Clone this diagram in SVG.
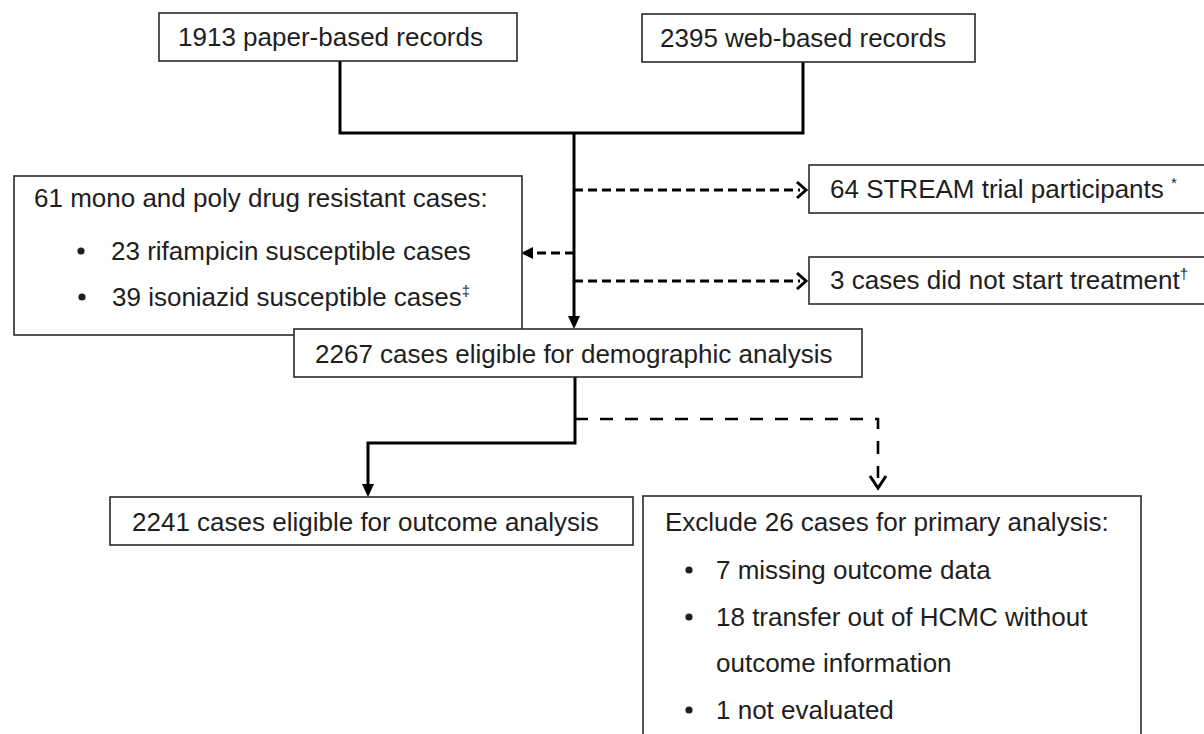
<svg xmlns="http://www.w3.org/2000/svg" width="1204" height="734" viewBox="0 0 1204 734">
<style>
  .box { fill: #fff; stroke: #2a2a2a; stroke-width: 1.6; }
  .t { font-family: "Liberation Sans", Arial, sans-serif; font-size: 26px; fill: #1e1e1e; }
  .sup { font-size: 15px; }
  .solid { fill: none; stroke: #000; stroke-width: 3; }
  .dash { fill: none; stroke: #000; stroke-width: 3; stroke-dasharray: 9 5; }
  .dash2 { fill: none; stroke: #000; stroke-width: 2.6; stroke-dasharray: 13 12; }
  .chev { fill: none; stroke: #000; stroke-width: 3; }
  .head { fill: #000; stroke: none; }
</style>
<rect width="1204" height="734" fill="#fff"/>

<g id="connectors">
  <path class="solid" d="M340,61 V133 H803 V62"/>
  <path class="solid" d="M574,133 V318"/>
  <polygon class="head" points="568,316 580,316 574,329"/>
  <path class="dash" d="M574,190 H800"/>
  <polyline class="chev" points="797,182 806,190 797,198"/>
  <path class="dash" d="M574,253 H532"/>
  <polygon class="head" points="533,247 533,259 521,253"/>
  <path class="dash" d="M574,281 H800"/>
  <polyline class="chev" points="797,273 806,281 797,289"/>
  <path class="solid" d="M575,377 V443 H368 V486"/>
  <polygon class="head" points="362,484 374,484 368,497"/>
  <path class="dash2" d="M575,419 H878 V478"/>
  <polyline class="chev" points="870,476 878,488 886,476"/>
</g>

<g id="paper">
  <rect class="box" x="159" y="13" width="358" height="48"/>
  <text class="t" x="178" y="46">1913 paper-based records</text>
</g>
<g id="web">
  <rect class="box" x="642" y="14" width="333" height="48"/>
  <text class="t" x="660" y="47">2395 web-based records</text>
</g>
<g id="stream">
  <rect class="box" x="809" y="165" width="420" height="48"/>
  <text class="t" x="830" y="198">64 STREAM trial participants <tspan class="sup" dy="-10">*</tspan></text>
</g>
<g id="notstarted">
  <rect class="box" x="809" y="257" width="420" height="47"/>
  <text class="t" x="830" y="289">3 cases did not start treatment<tspan class="sup" dy="-10">†</tspan></text>
</g>
<g id="resistant">
  <rect class="box" x="14" y="176" width="508" height="159"/>
  <text class="t" x="34" y="207">61 mono and poly drug resistant cases:</text>
  <circle cx="81" cy="251" r="3.6" fill="#1e1e1e"/>
  <text class="t" x="111" y="260">23 rifampicin susceptible cases</text>
  <circle cx="82" cy="297" r="3.6" fill="#1e1e1e"/>
  <text class="t" x="112" y="306">39 isoniazid susceptible cases<tspan class="sup" dy="-10">‡</tspan></text>
</g>
<g id="demographic">
  <rect class="box" x="294" y="329" width="568" height="48"/>
  <text class="t" x="315" y="363">2267 cases eligible for demographic analysis</text>
</g>
<g id="outcome">
  <rect class="box" x="110" y="497" width="523" height="48"/>
  <text class="t" x="132" y="531">2241 cases eligible for outcome analysis</text>
</g>
<g id="exclude">
  <rect class="box" x="643" y="496" width="498" height="250"/>
  <text class="t" x="665" y="531">Exclude 26 cases for primary analysis:</text>
  <circle cx="689" cy="570" r="3.6" fill="#1e1e1e"/>
  <text class="t" x="716" y="579">7 missing outcome data</text>
  <circle cx="689" cy="617" r="3.6" fill="#1e1e1e"/>
  <text class="t" x="716" y="626">18 transfer out of HCMC without</text>
  <text class="t" x="716" y="672">outcome information</text>
  <circle cx="689" cy="710" r="3.6" fill="#1e1e1e"/>
  <text class="t" x="716" y="719">1 not evaluated</text>
</g>
</svg>
